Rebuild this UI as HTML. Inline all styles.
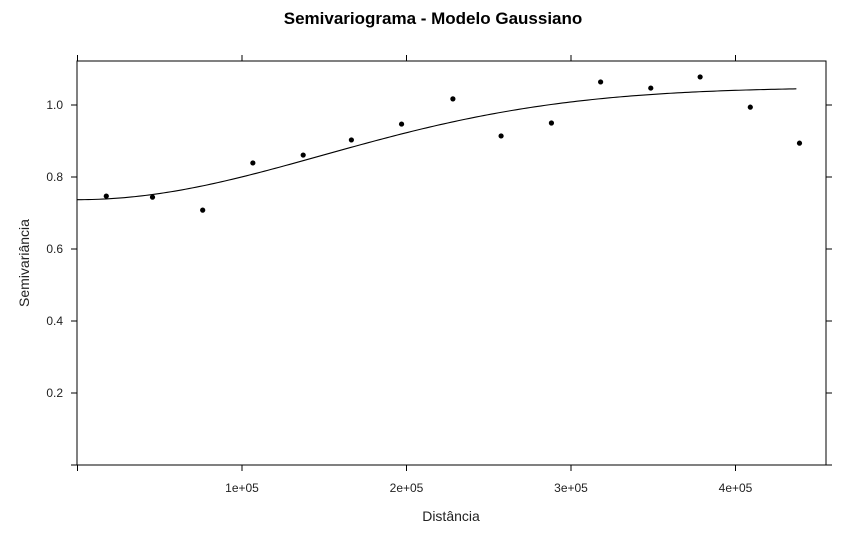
<!DOCTYPE html>
<html><head><meta charset="utf-8"><style>
body{margin:0;background:#fff;}
svg{display:block;font-family:"Liberation Sans",Arial,sans-serif;}
</style></head><body>
<svg id="chart" width="865" height="544">
<text x="433" y="24" text-anchor="middle" font-size="17" font-weight="bold">Semivariograma - Modelo Gaussiano</text>
<rect x="77" y="61" width="749" height="404" fill="none" stroke="#000" stroke-width="1"/>
<g id="ticks"></g>
<g id="marks"></g>
<text x="451" y="521" text-anchor="middle" font-size="14" fill="#222">Distância</text>
<text transform="translate(29,263) rotate(-90)" text-anchor="middle" font-size="14" fill="#222">Semivariância</text>
</svg>
<script>
const distances=[17500,45600,76100,106600,137200,166500,197000,228200,257500,288100,318000,348500,378500,409000,438900];
const semivariances=[0.747,0.744,0.708,0.839,0.861,0.903,0.947,1.017,0.914,0.950,1.064,1.047,1.078,0.994,0.894];
const xTicks=[0,100000,200000,300000,400000];
const xTickLabels=["","1e+05","2e+05","3e+05","4e+05"];
const yTicks=[0,0.2,0.4,0.6,0.8,1.0];
const yTickLabels=["","0.2","0.4","0.6","0.8","1.0"];
const modelNugget=0.737, modelPartialSill=0.312, modelRange=210000, modelMaxDist=437000;
const NS="http://www.w3.org/2000/svg";
const X=v=>77.5+v*164.5/100000;
const Y=v=>465-v*360;
function mk(tag,attrs,parent){const e=document.createElementNS(NS,tag);for(const k in attrs)e.setAttribute(k,attrs[k]);parent.appendChild(e);return e;}
const tg=document.getElementById('ticks'), mg=document.getElementById('marks');
xTicks.forEach((t,i)=>{
 const x=X(t);
 let a=mk('line',{x1:x,x2:x,y1:465,y2:471,stroke:'#000'},tg);
 
 
 let b=mk('line',{x1:x,x2:x,y1:55,y2:61,stroke:'#000'},tg);
 
 
 if(xTickLabels[i]){const tx=mk('text',{x:x,y:492,'text-anchor':'middle','font-size':12,fill:'#222'},tg);tx.textContent=xTickLabels[i];
 
 }
});
yTicks.forEach((t,i)=>{
 const y=Y(t);
 let a=mk('line',{x1:71,x2:77,y1:y,y2:y,stroke:'#000'},tg);
 
 
 let b=mk('line',{x1:826,x2:832,y1:y,y2:y,stroke:'#000'},tg);
 
 
 if(yTickLabels[i]){const tx=mk('text',{x:63,y:y+4,'text-anchor':'end','font-size':12,fill:'#222'},tg);tx.textContent=yTickLabels[i];
 
 }
});
let d='';
for(let i=0;i<=200;i++){const h=modelMaxDist*i/200;const r=h/modelRange;const g=modelNugget+modelPartialSill*(1-Math.exp(-(r*r)));d+=(i?'L':'M')+X(h).toFixed(2)+','+Y(g).toFixed(2);}
const p=mk('path',{d:d,fill:'none',stroke:'#000','stroke-width':1.1},mg);


distances.forEach((h,i)=>{
 const c=mk('circle',{cx:X(h),cy:Y(semivariances[i]),r:2.6,fill:'#000'},mg);
 
 
});
</script>
</body></html>
